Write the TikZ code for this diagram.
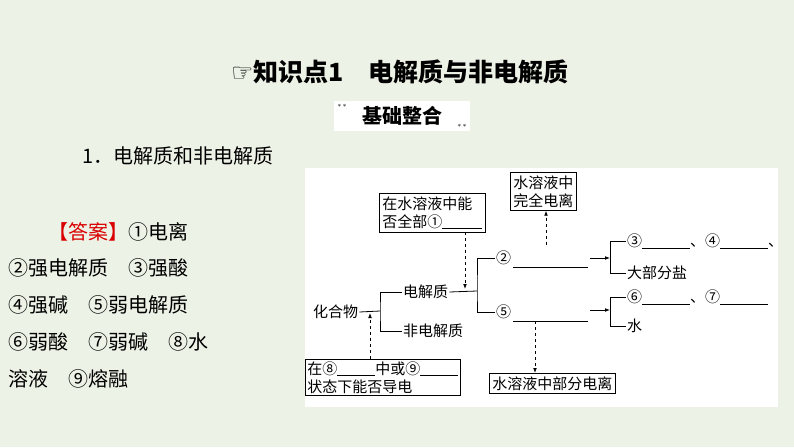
\documentclass[tikz,border=0pt]{standalone}
\usepackage{fontspec}
\setmainfont{Noto Sans CJK SC}
\newfontfamily\symfont{DejaVu Sans}
\usetikzlibrary{arrows.meta}
\definecolor{bgcol}{HTML}{EDF2E6}
\tikzset{
  box/.style={draw, thick, fill=white, align=left, inner sep=3pt, font=\fontsize{15}{18}\selectfont},
  lab/.style={inner sep=1pt, font=\fontsize{15}{17}\selectfont, anchor=west},
  ans/.style={inner sep=0pt, anchor=west, font=\fontsize{20}{22}\selectfont},
  dasharrow/.style={draw, thick, dashed, -{Latex[length=5pt]}},
  arr/.style={draw, thick, -{Latex[length=5pt]}},
  ln/.style={draw, thick}
}
\newcommand{\blank}[1]{\rule[-2pt]{#1pt}{0.6pt}}
\begin{document}
\begin{tikzpicture}[x=1pt,y=-1pt]
\fill[bgcol] (0,0) rectangle (794,447);
\useasboundingbox (0,0) rectangle (794,447);
% title
\node[font=\bfseries\fontsize{25}{27}\selectfont] (title) at (400,72) {{\symfont ☞}知识点1\quad 电解质与非电解质};
\node[fill=white, font=\bfseries\fontsize{20}{22}\selectfont, minimum width=136pt, minimum height=30pt] (basic) at (402,116) {基础整合};
\node[font=\scriptsize, anchor=north west] (star1) at (basic.north west) {$\ast$\,$\ast$};
\node[font=\scriptsize, anchor=south east] (star2) at (basic.south east) {$\ast$\,$\ast$};
\node[ans] (sub) at (82,156) {1．电解质和非电解质};
% answers
\node[ans] (a1) at (48,232) {\textcolor{red!85!black}{【答案】}①电离};
\node[ans] (a2) at (8,268) {②强电解质\quad ③强酸};
\node[ans] (a3) at (8,305) {④强碱\quad ⑤弱电解质};
\node[ans] (a4) at (8,342) {⑥弱酸\quad ⑦弱碱\quad ⑧水};
\node[ans] (a5) at (8,379) {溶液\quad ⑨熔融};
% panel
\fill[white] (305,168) rectangle (778,407);
\node[lab] (cmp) at (312,312) {化合物};
\node[lab] (ele) at (402,292) {电解质};
\node[lab] (non) at (402,331) {非电解质};
\node[box, anchor=north west] (q1) at (379,193) {在水溶液中能\\否全部①\blank{40}};
\node[box, anchor=north west] (full) at (510,172) {水溶液中\\完全电离};
\node[box, anchor=north west, inner sep=2pt] (q2) at (305,359) {在⑧\blank{38}中或⑨\blank{38}\\状态下能否导电};
\node[box, anchor=north west] (part) at (489,373) {水溶液中部分电离};
\node[lab] (strong) at (495,258) {②};
\node[lab] (weak) at (495,312) {⑤};
\node[lab] (s1) at (626,241) {③\blank{48}、④\blank{48}、};
\node[lab] (s2) at (626,273) {大部分盐};
\node[lab] (w1) at (626,297) {⑥\blank{48}、⑦\blank{48}};
\node[lab] (w2) at (626,326) {水};
% connectors
\coordinate (b1) at (380,311);
\path[ln] (cmp.east) -- (b1);
\path[ln] (ele.west) -| (b1) |- (non.west);
\coordinate (b2) at (477,291);
\path[ln] (ele.east) -- (b2);
\path[ln] (strong.west) -| (b2) |- (weak.west);
\coordinate (sl) at (588,267);
\coordinate (wl) at (588,321);
\path[ln] (513,267) -- (sl);
\path[ln] (513,321) -- (wl);
\coordinate (rb) at (610,258);
\coordinate (rw) at (610,310);
\path[arr] (590,258) -- (rb);
\path[arr] (590,310) -- (rw);
\path[ln] (s1.west) -| (rb) |- (s2.west);
\path[ln] (w1.west) -| (rw) |- (w2.west);
\path[dasharrow] (q1.south -| 465,0) -- (465,289);
\path[dasharrow] (546,245) -- (full.south -| 546,0);
\path[dasharrow] (535,321) -- (part.north -| 535,0);
\path[dasharrow] (q2.north -| 370,0) -- (370,313);
\end{tikzpicture}
\end{document}
